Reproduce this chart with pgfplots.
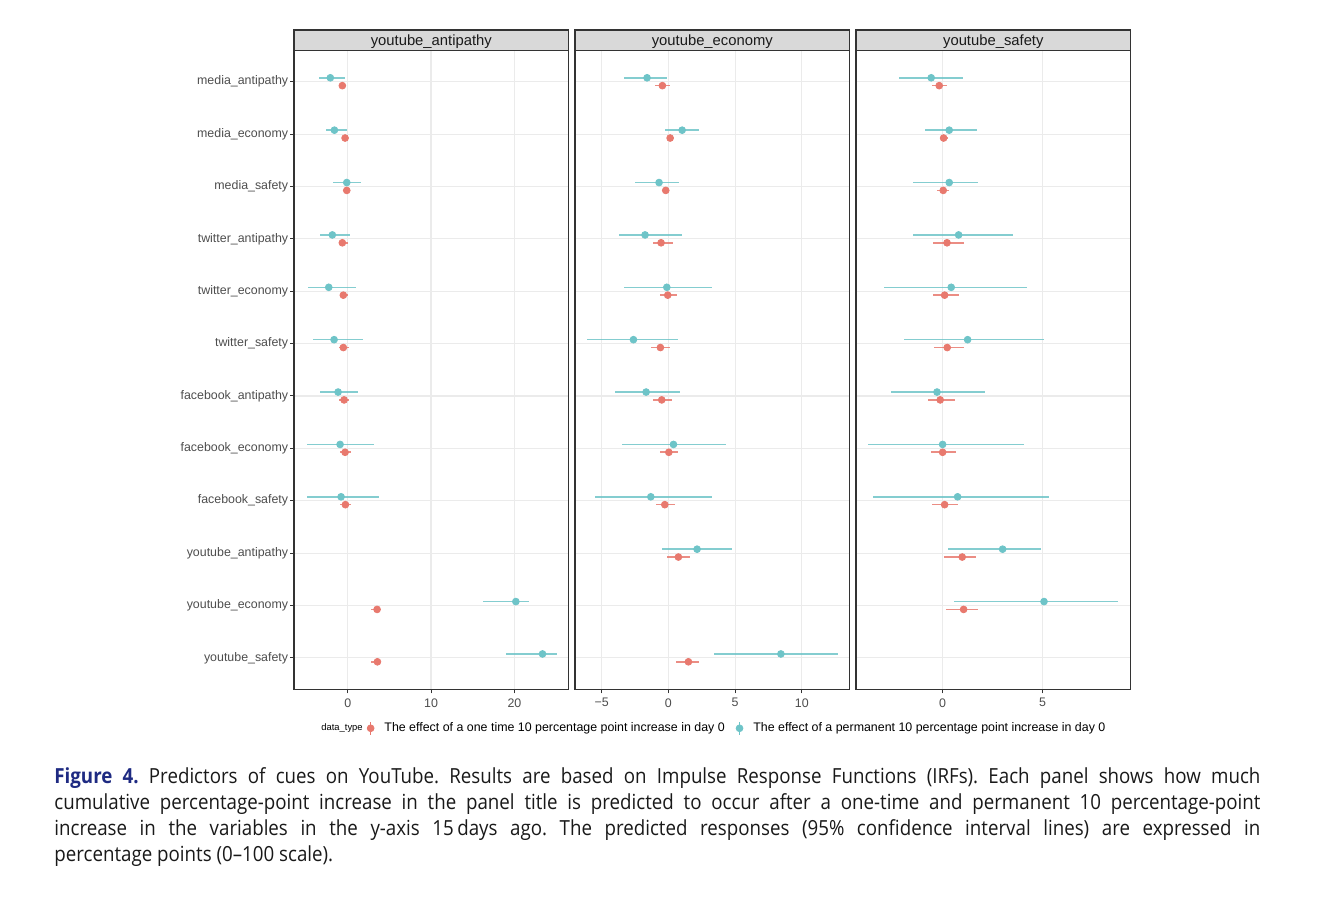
\documentclass[border=0pt]{standalone}
\usepackage{fontspec}
\setmainfont{Liberation Sans}
\newfontfamily\capfont[FakeStretch=0.9]{Open Sans}
\usepackage{pgfplots}
\usepackage{pgfplotstable}
\pgfplotsset{compat=1.18}

\definecolor{cy}{HTML}{6EC4C8}
\definecolor{rd}{HTML}{E8796E}
\definecolor{gray20}{HTML}{333333}
\definecolor{gray30}{HTML}{4D4D4D}
\definecolor{gray10}{HTML}{1A1A1A}
\definecolor{grid92}{HTML}{EBEBEB}
\definecolor{stripfill}{HTML}{D9D9D9}
\definecolor{figblue}{HTML}{1E2A82}

% y: 1 = youtube_safety ... 12 = media_antipathy; m = estimate, lo/hi = 95% CI
\pgfplotstableread{
y m lo hi
12 -2.09 -3.40 -0.32
11 -1.60 -2.57 -0.05
10 -0.12 -1.72 1.56
9 -1.85 -3.32 0.28
8 -2.28 -4.77 1.00
7 -1.64 -4.13 1.88
6 -1.16 -3.32 1.20
5 -0.92 -4.92 3.12
4 -0.80 -4.90 3.76
2 20.17 16.28 21.70
1 23.37 19.04 25.10
}\pOneC
\pgfplotstableread{
y m lo hi
12 -0.65 -0.85 -0.45
11 -0.32 -0.50 -0.15
10 -0.12 -0.30 0.05
9 -0.65 -1.10 0.00
8 -0.53 -0.92 0.07
7 -0.53 -1.00 0.20
6 -0.44 -1.00 0.20
5 -0.32 -0.92 0.36
4 -0.28 -0.92 0.40
2 3.52 2.80 3.88
1 3.56 2.80 3.90
}\pOneR
\pgfplotstableread{
y m lo hi
12 -1.60 -3.32 -0.10
11 1.03 -0.27 2.28
10 -0.70 -2.47 0.80
9 -1.75 -3.67 1.00
8 -0.12 -3.32 3.25
7 -2.62 -6.07 0.70
6 -1.67 -4.00 0.90
5 0.38 -3.47 4.30
4 -1.32 -5.50 3.25
3 2.15 -0.47 4.78
1 8.43 3.38 12.68
}\pTwoC
\pgfplotstableread{
y m lo hi
12 -0.45 -1.00 0.10
11 0.13 0.00 0.25
10 -0.20 -0.50 0.08
9 -0.55 -1.12 0.33
8 -0.05 -0.62 0.63
7 -0.60 -1.33 0.15
6 -0.50 -1.15 0.25
5 0.03 -0.60 0.70
4 -0.27 -0.90 0.47
3 0.75 -0.10 1.65
1 1.50 0.60 2.28
}\pTwoR
\pgfplotstableread{
y m lo hi
12 -0.57 -2.17 1.03
11 0.33 -0.87 1.72
10 0.33 -1.48 1.77
9 0.80 -1.48 3.52
8 0.43 -2.95 4.22
7 1.25 -1.92 5.05
6 -0.28 -2.57 2.13
5 0.00 -3.72 4.05
4 0.75 -3.50 5.30
3 3.00 0.28 4.92
2 5.07 0.57 8.77
}\pThreeC
\pgfplotstableread{
y m lo hi
12 -0.17 -0.52 0.20
11 0.05 -0.15 0.25
10 0.03 -0.30 0.32
9 0.22 -0.50 1.07
8 0.10 -0.50 0.80
7 0.23 -0.43 1.07
6 -0.12 -0.72 0.60
5 0.00 -0.57 0.68
4 0.10 -0.52 0.75
3 0.98 0.08 1.65
2 1.05 0.17 1.75
}\pThreeR

\pgfplotsset{
  panel/.style={
    scale only axis, width=137.3pt, height=319.5pt,
    anchor=south west,
    ymin=0.4, ymax=12.6, ytick={1,...,12},
    axis line style={draw=gray20, line width=0.6pt},
    grid=major, major grid style={draw=grid92, line width=0.6pt},
    tick style={draw=gray20, line width=0.5pt},
    tick align=outside, major tick length=2pt,
    xtick pos=bottom, ytick pos=left,
    ticklabel style={font=\fontsize{6.2}{7}\selectfont, text=gray30},
    xticklabel style={yshift=1pt},
    yticklabel style={xshift=2.6pt},
  },
  pr/.style={only marks, mark=*, mark size=1.7pt, color=#1,
    mark options={draw=none, fill=#1},
    error bars/x dir=both, error bars/x explicit, error bars/error mark=none,
    error bars/error bar style={line width=0.8pt, #1, opacity=0.85},
    legend image code/.code={\draw[#1, line width=0.8pt] (0pt,-3.2pt)--(0pt,3.2pt); \fill[#1] (0pt,0pt) circle (1.7pt);}},
  nokey/.style={yticklabels={}, y tick style={draw=none}},
}
\newcommand{\prplot}[3]{% color, table, offset
  \addplot[pr=#1] table[x=m, y expr=\thisrow{y}+#3,
    x error plus expr=\thisrow{hi}-\thisrow{m},
    x error minus expr=\thisrow{m}-\thisrow{lo}] {#2};}
\newcommand{\strip}[2]{%
  \draw[fill=stripfill, draw=gray20, line width=0.6pt] (#1.north west) rectangle ([yshift=10.15pt]#1.north east);
  \node[font=\fontsize{7.4}{8}\selectfont, text=gray10, inner sep=0] at ([yshift=4.3pt]#1.north) {#2};}

\begin{document}
\begin{tikzpicture}
\path[use as bounding box] (0,0) rectangle (667pt,453pt);

\begin{axis}[panel, name=p1, at={(147pt,108.35pt)},
  xmin=-6.45, xmax=26.5, xtick={0,10,20}, xticklabels={0,10,20},
  yticklabels={youtube\_safety, youtube\_economy, youtube\_antipathy,
    facebook\_safety, facebook\_economy, facebook\_antipathy,
    twitter\_safety, twitter\_economy, twitter\_antipathy,
    media\_safety, media\_economy, media\_antipathy}]
  \prplot{rd}{\pOneR}{-0.075}
  \prplot{cy}{\pOneC}{0.075}
\end{axis}
\strip{p1}{youtube\_antipathy}

\begin{axis}[panel, nokey, name=p2, at={(287.5pt,108.35pt)},
  xmin=-7.0, xmax=13.58, xtick={-5,0,5,10}, xticklabels={−5,0,5,10},
  legend columns=2,
  legend style={at={(0.594,-0.061)}, anchor=center, draw=none, fill=none,
    font=\fontsize{6.2}{7}\selectfont,
    /tikz/every odd column/.append style={column sep=3pt},
    /tikz/every even column/.append style={column sep=3.5pt}},
  legend cell align=left]
  \prplot{rd}{\pTwoR}{-0.075}
  \addlegendentry{The effect of a one time 10 percentage point increase in day 0}
  \prplot{cy}{\pTwoC}{0.075}
  \addlegendentry{The effect of a permanent 10 percentage point increase in day 0}
\end{axis}
\strip{p2}{youtube\_economy}

\begin{axis}[panel, nokey, name=p3, at={(428pt,108.35pt)},
  xmin=-4.33, xmax=9.4, xtick={0,5}, xticklabels={0,5}]
  \prplot{rd}{\pThreeR}{-0.075}
  \prplot{cy}{\pThreeC}{0.075}
\end{axis}
\strip{p3}{youtube\_safety}

\node[anchor=west, font=\fontsize{4.7}{5}\selectfont, inner sep=0] at (160.5pt,89.2pt) {data\_type};

\node[anchor=north west, inner sep=0, text width=603pt, align=justify,
  font=\capfont\fontsize{10.4}{13}\selectfont\frenchspacing, text=black!90] at (27pt,69.5pt)
{{\bfseries\color{figblue}Figure 4.} Predictors of cues on YouTube. Results are based on Impulse Response Functions (IRFs). Each panel shows how much\linebreak
cumulative percentage-point increase in the panel title is predicted to occur after a one-time and permanent 10 percentage-point\linebreak
increase in the variables in the y-axis 15\,days ago. The predicted responses (95\% confidence interval lines) are expressed in\linebreak
percentage points (0–100 scale).};
\end{tikzpicture}
\end{document}
